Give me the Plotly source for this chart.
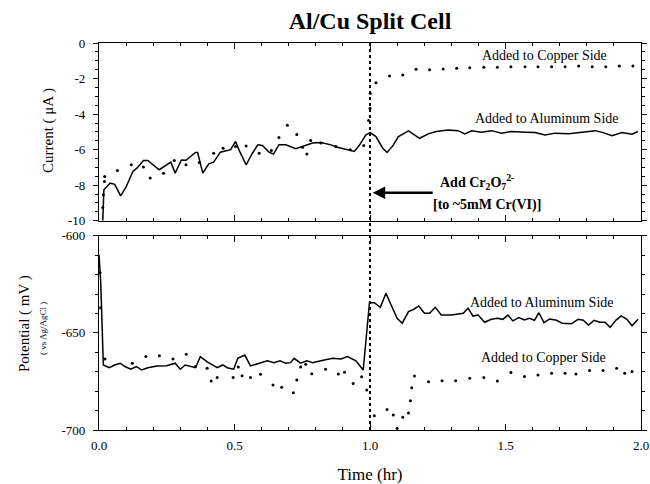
import plotly.graph_objects as go
from plotly.subplots import make_subplots

# Current, aluminum-side addition (solid line)
al_cur_t = [0.014, 0.018, 0.041, 0.058, 0.080, 0.100, 0.125, 0.140, 0.164, 0.180,
            0.222, 0.257, 0.265, 0.281, 0.304, 0.321, 0.356, 0.364, 0.383, 0.405,
            0.423, 0.448, 0.473, 0.486, 0.504, 0.519, 0.543, 0.566, 0.586, 0.603,
            0.627, 0.644, 0.664, 0.689, 0.726, 0.751, 0.788, 0.819, 0.856, 0.880,
            0.930, 0.942, 0.960, 0.985, 1.001, 1.022, 1.047, 1.063, 1.084, 1.105,
            1.142, 1.163, 1.183, 1.215, 1.244, 1.288, 1.325, 1.350, 1.375, 1.411,
            1.449, 1.485, 1.522, 1.572, 1.609, 1.646, 1.683, 1.733, 1.781, 1.831,
            1.860, 1.893, 1.930, 1.967, 1.989]
al_cur = [-10.0, -8.26, -7.88, -7.95, -8.6, -8.1, -7.23, -7.04, -6.61, -6.61,
          -7.13, -6.76, -6.7, -7.32, -6.58, -6.6, -6.16, -6.16, -7.32, -6.8,
          -6.7, -6.14, -6.06, -6.0, -5.54, -6.1, -6.85, -6.2, -5.73, -5.77,
          -6.14, -6.25, -5.73, -5.73, -5.95, -5.82, -5.63, -5.6, -5.73, -5.86,
          -6.05, -6.1, -5.77, -5.17, -5.04, -5.26, -5.92, -6.16, -5.79, -5.26,
          -4.94, -5.17, -5.36, -5.11, -4.98, -4.89, -4.93, -5.11, -4.94, -5.02,
          -4.93, -5.07, -4.98, -5.02, -5.04, -5.17, -5.07, -5.11, -5.02, -4.93,
          -5.04, -5.22, -5.04, -5.13, -4.98]

# Current, copper-side addition (dots)
cu_cur_t = [0.014, 0.016, 0.020, 0.021, 0.068, 0.119, 0.164, 0.189, 0.238, 0.278,
            0.321, 0.370, 0.423, 0.458, 0.504, 0.543, 0.591, 0.636, 0.664, 0.695,
            0.730, 0.751, 0.767, 0.781, 0.819, 0.874, 0.927, 0.977, 0.995, 1.000,
            1.001, 1.022, 1.072, 1.121, 1.170, 1.220, 1.270, 1.320, 1.368, 1.420,
            1.470, 1.520, 1.572, 1.620, 1.670, 1.720, 1.770, 1.820, 1.870, 1.920,
            1.970]
cu_cur = [-9.25, -8.54, -7.79, -7.51, -7.17, -6.85, -6.98, -7.6, -7.32, -6.61,
          -6.85, -6.72, -6.2, -5.92, -5.82, -5.79, -6.2, -6.05, -5.32, -4.63,
          -5.15, -5.86, -6.24, -5.49, -5.63, -5.82, -6.0, -5.77, -4.36, -3.67,
          -2.83, -2.23, -1.85, -1.8, -1.48, -1.51, -1.46, -1.42, -1.39, -1.37,
          -1.37, -1.33, -1.33, -1.33, -1.33, -1.33, -1.29, -1.33, -1.33, -1.29,
          -1.29]

# Potential, aluminum-side addition (solid line)
al_pot_t = [0.000, 0.004, 0.006, 0.010, 0.016, 0.038, 0.058, 0.078, 0.096, 0.117,
            0.138, 0.158, 0.180, 0.214, 0.250, 0.281, 0.300, 0.318, 0.336, 0.356,
            0.374, 0.398, 0.436, 0.457, 0.473, 0.497, 0.512, 0.538, 0.559, 0.596,
            0.621, 0.646, 0.668, 0.689, 0.707, 0.720, 0.744, 0.767, 0.788, 0.819,
            0.862, 0.893, 0.917, 0.948, 0.975, 0.998, 1.016, 1.038, 1.059, 1.078,
            1.100, 1.119, 1.142, 1.162, 1.180, 1.201, 1.220, 1.241, 1.263, 1.300,
            1.325, 1.344, 1.362, 1.380, 1.399, 1.423, 1.448, 1.470, 1.490, 1.509,
            1.527, 1.549, 1.570, 1.588, 1.607, 1.623, 1.642, 1.663, 1.688, 1.709,
            1.743, 1.768, 1.787, 1.806, 1.827, 1.848, 1.867, 1.886, 1.907, 1.927,
            1.948, 1.967, 1.989]
al_pot = [-609.8, -616.7, -622.7, -639.9, -666.5, -667.9, -666.5, -665.6, -667.3, -668.7,
          -667.3, -669.1, -667.9, -667.0, -666.9, -665.6, -668.7, -666.5, -667.0, -667.9,
          -662.2, -664.8, -667.9, -666.5, -667.9, -668.7, -663.1, -661.4, -667.0, -665.6,
          -664.4, -665.3, -664.4, -665.6, -665.3, -663.1, -665.6, -664.4, -665.3, -664.3,
          -663.1, -663.4, -662.2, -664.4, -669.1, -634.4, -634.4, -636.8, -629.6, -635.6,
          -642.5, -645.0, -639.0, -637.8, -636.1, -639.9, -639.9, -636.8, -640.8, -640.8,
          -640.4, -639.9, -637.3, -641.3, -640.8, -644.5, -643.0, -642.5, -643.0, -640.8,
          -643.8, -642.1, -643.3, -642.5, -643.5, -639.6, -644.7, -642.8, -643.5, -645.0,
          -645.3, -643.0, -643.5, -645.9, -643.5, -644.5, -644.5, -647.1, -643.5, -641.2,
          -643.0, -646.3, -643.0]

# Potential, copper-side addition (dots)
cu_pot_t = [0.004, 0.006, 0.022, 0.123, 0.173, 0.223, 0.273, 0.322, 0.356, 0.399,
            0.414, 0.436, 0.495, 0.514, 0.528, 0.559, 0.596, 0.642, 0.674, 0.717,
            0.730, 0.744, 0.763, 0.785, 0.836, 0.883, 0.906, 0.938, 0.969, 0.988,
            1.016, 1.063, 1.086, 1.100, 1.121, 1.142, 1.149, 1.154, 1.164, 1.216,
            1.266, 1.316, 1.368, 1.420, 1.470, 1.520, 1.570, 1.620, 1.670, 1.720,
            1.760, 1.810, 1.860, 1.910, 1.940, 1.967]
cu_pot = [-619.0, -637.0, -663.4, -665.6, -662.2, -661.7, -663.4, -661.0, -667.3, -668.2,
          -674.7, -673.0, -673.0, -667.6, -672.1, -673.0, -671.3, -676.8, -678.0, -680.8,
          -674.2, -667.6, -666.1, -671.0, -668.7, -671.1, -670.2, -676.0, -672.6, -679.4,
          -692.6, -689.4, -692.3, -699.1, -693.4, -691.3, -684.9, -678.2, -672.2, -675.1,
          -674.6, -674.6, -673.4, -673.0, -674.7, -670.4, -672.5, -671.7, -670.8, -670.8,
          -671.1, -669.4, -669.4, -668.2, -670.8, -669.9]

# tick labels (plain hyphen minus, as in the original figure)
cur_ticks = [-10, -8, -6, -4, -2, 0]
pot_ticks = [-700, -650, -600]

FONT = "Liberation Serif"

W, H = 650, 484
L, R, T, B = 99, 9, 43, 54

fig = make_subplots(rows=2, cols=1, shared_xaxes=True, vertical_spacing=0.039,
                    row_heights=[0.478, 0.522])

fig.add_trace(go.Scatter(x=al_cur_t, y=al_cur, mode="lines",
                         line=dict(color="black", width=1.5)), row=1, col=1)
fig.add_trace(go.Scatter(x=cu_cur_t, y=cu_cur, mode="markers",
                         marker=dict(color="black", size=3)), row=1, col=1)
fig.add_trace(go.Scatter(x=al_pot_t, y=al_pot, mode="lines",
                         line=dict(color="black", width=1.5)), row=2, col=1)
fig.add_trace(go.Scatter(x=cu_pot_t, y=cu_pot, mode="markers",
                         marker=dict(color="black", size=3)), row=2, col=1)

axis_style = dict(showline=True, linecolor="black", linewidth=1.2, mirror="ticks",
                  showgrid=False, zeroline=False, tickcolor="black", automargin=False,
                  tickfont=dict(family=FONT, size=13, color="black"))

fig.update_xaxes(range=[0, 2.0], dtick=0.5, tickformat=".1f", ticks="inside", ticklen=6,
                 minor=dict(dtick=0.1, ticks="inside", ticklen=3, tickcolor="black"),
                 **axis_style)
fig.update_xaxes(ticklabelstandoff=3, title=dict(text="Time (hr)", standoff=18,
                 font=dict(family=FONT, size=17, color="black")), row=2, col=1)

fig.update_yaxes(ticks="outside", ticklen=5, ticklabelstandoff=5, **axis_style)
fig.update_yaxes(range=[-10, 0], tickmode="array", tickvals=cur_ticks,
                 ticktext=[str(v) for v in cur_ticks],
                 minor=dict(dtick=0.5, tick0=0, ticks="outside", ticklen=3, tickcolor="black"),
                 row=1, col=1)
fig.update_yaxes(range=[-700, -600], tickmode="array", tickvals=pot_ticks,
                 ticktext=[str(v) for v in pot_ticks],
                 minor=dict(dtick=10, tick0=0, ticks="outside", ticklen=3, tickcolor="black"),
                 row=2, col=1)

# Dotted marker of the dichromate addition, across both panels
fig.add_shape(type="line", xref="x2", yref="paper", x0=1.0, x1=1.0, y0=0, y1=1,
              line=dict(color="black", width=2, dash="dot"))

ann_font = dict(family=FONT, size=14, color="black")
fig.add_annotation(x=1.644, y=-0.73, xref="x", yref="y", text="Added to Copper Side",
                   showarrow=False, font=ann_font)
fig.add_annotation(x=1.652, y=-4.27, xref="x", yref="y", text="Added to Aluminum Side",
                   showarrow=False, font=ann_font)
fig.add_annotation(x=1.633, y=-634.5, xref="x2", yref="y2", text="Added to Aluminum Side",
                   showarrow=False, font=ann_font)
fig.add_annotation(x=1.64, y=-662.9, xref="x2", yref="y2", text="Added to Copper Side",
                   showarrow=False, font=ann_font)

# Arrow pointing at the addition time
fig.add_annotation(x=1.01, y=-8.43, xref="x", yref="y", ax=1.237, ay=-8.43,
                   axref="x", ayref="y", text="", showarrow=True,
                   arrowhead=2, arrowsize=1, arrowwidth=2.5, arrowcolor="black")
fig.add_annotation(x=1.396, y=-7.81, xref="x", yref="y",
                   text="<b>Add Cr<sub>2</sub>O<sub>7</sub><sup>2-</sup></b>",
                   showarrow=False, font=ann_font)
fig.add_annotation(x=1.433, y=-9.1, xref="x", yref="y",
                   text="<b>[to ~5mM Cr(VI)]</b>", showarrow=False, font=ann_font)


# Axis titles, placed by pixel position
def px_to_paper(px, py):
    return (px - L) / (W - L - R), 1 - (py - T) / (H - T - B)


for text, px, py, size in [("Current ( μA )", 48, 131, 15),
                           ("Potential ( mV )", 24, 324, 15),
                           ("( vs Ag/AgCl )", 43, 329, 9)]:
    ax_, ay_ = px_to_paper(px, py)
    fig.add_annotation(x=ax_, y=ay_, xref="paper", yref="paper", text=text,
                       textangle=-90, showarrow=False, xanchor="center", yanchor="middle",
                       font=dict(family=FONT, size=size, color="black"))

fig.update_layout(
    width=W, height=H,
    margin=dict(l=L, r=R, t=T, b=B),
    plot_bgcolor="white", paper_bgcolor="white",
    showlegend=False,
    title=dict(text="<b>Al/Cu Split Cell</b>", x=0.5, xref="paper",
               y=1 - 21 / H, yanchor="middle",
               font=dict(family=FONT, size=24, color="black")),
)

# drop the default 8px page margin so the figure fills the window exactly
fig.write_html("out.html", config={"displayModeBar": False},
               post_script="document.body.style.margin = '0';")
